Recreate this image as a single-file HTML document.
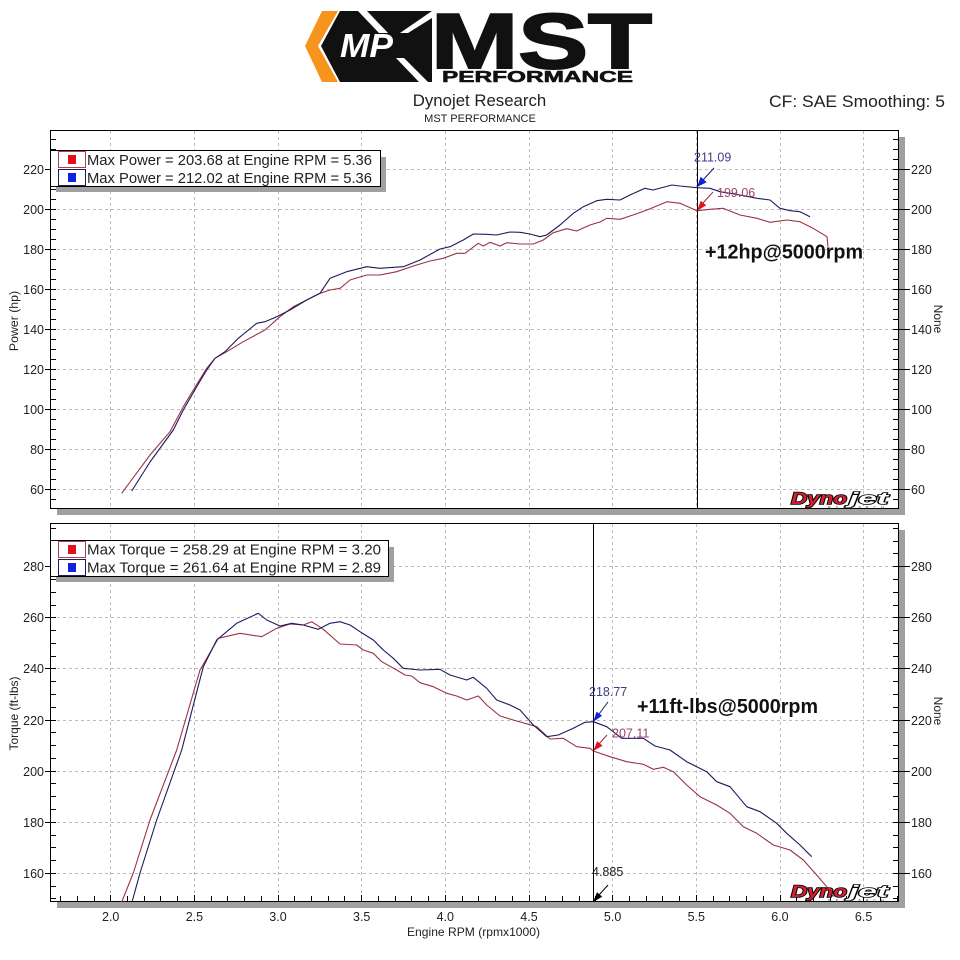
<!DOCTYPE html>
<html><head><meta charset="utf-8"><style>
html,body{margin:0;padding:0;background:#fff;}
svg{display:block;}
text{font-family:"Liberation Sans","DejaVu Sans",sans-serif;}
</style></head><body>
<svg width="960" height="960" viewBox="0 0 960 960" xmlns="http://www.w3.org/2000/svg">
<rect width="960" height="960" fill="#fff"/>

<!-- LOGO -->
<polygon points="322,11 338,11 318,46 338,82 322,82 305,46" fill="#f7941d"/>
<polygon points="340,11 432,11 432,82 340,82 321,46" fill="#111"/>
<polygon points="358,11 367,11 388,33 379,33" fill="#fff"/>
<polygon points="396,58 404,58 428,82 419,82" fill="#fff"/>
<polygon points="400,33 432,11 432,18 408,33" fill="#fff"/>
<text x="340" y="57" font-size="33" font-weight="bold" font-style="italic" fill="#fff" textLength="53" lengthAdjust="spacingAndGlyphs">MP</text>
<text x="431" y="68" font-size="78" font-weight="bold" fill="#111" stroke="#111" stroke-width="2" textLength="221" lengthAdjust="spacingAndGlyphs">MST</text>
<text x="442" y="82" font-size="16" font-weight="bold" fill="#111" stroke="#111" stroke-width="0.6" textLength="191" lengthAdjust="spacingAndGlyphs">PERFORMANCE</text>

<!-- HEADER -->
<text x="479.5" y="106" font-size="16.8" text-anchor="middle" fill="#222">Dynojet Research</text>
<text x="480" y="122" font-size="11" text-anchor="middle" fill="#222">MST PERFORMANCE</text>
<text x="769" y="107" font-size="16.3" fill="#222" textLength="176" lengthAdjust="spacingAndGlyphs">CF: SAE Smoothing: 5</text>

<!-- SHADOWS -->
<g fill="#a0a0a0">
<rect x="899" y="137" width="6" height="378"/>
<rect x="57" y="509" width="848" height="6"/>
<rect x="899" y="530" width="6" height="378"/>
<rect x="57" y="902" width="848" height="6"/>
</g>

<!-- GRID -->
<g stroke="#bdbdbd" stroke-width="1" stroke-dasharray="3,3" shape-rendering="crispEdges">
<path d="M110.5 131V509M194.5 131V509M278.5 131V509M361.5 131V509M445.5 131V509M529.5 131V509M612.5 131V509M696.5 131V509M780.5 131V509M863.5 131V509"/>
<path d="M51 169.5H899M51 209.5H899M51 249.5H899M51 289.5H899M51 329.5H899M51 369.5H899M51 409.5H899M51 449.5H899M51 489.5H899"/>
<path d="M110.5 524V902M194.5 524V902M278.5 524V902M361.5 524V902M445.5 524V902M529.5 524V902M612.5 524V902M696.5 524V902M780.5 524V902M863.5 524V902"/>
<path d="M51 566.5H899M51 617.5H899M51 668.5H899M51 720.5H899M51 771.5H899M51 822.5H899M51 873.5H899"/>
</g>

<!-- FRAMES -->
<rect x="50.5" y="130.5" width="848" height="378" fill="none" stroke="#000" stroke-width="1"/>
<rect x="50.5" y="523.5" width="848" height="378" fill="none" stroke="#000" stroke-width="1"/>

<!-- TICKS TOP -->
<g stroke="#000" stroke-width="1" shape-rendering="crispEdges">
<path d="M51 499.5H56M51 479.5H56M51 469.5H56M51 459.5H56M51 439.5H56M51 429.5H56M51 419.5H56M51 399.5H56M51 389.5H56M51 379.5H56M51 359.5H56M51 349.5H56M51 339.5H56M51 319.5H56M51 309.5H56M51 299.5H56M51 279.5H56M51 269.5H56M51 259.5H56M51 239.5H56M51 229.5H56M51 219.5H56M51 199.5H56M51 189.5H56M51 179.5H56M51 159.5H56M51 149.5H56M51 139.5H56"/>
<path d="M45 489.5H56M45 449.5H56M45 409.5H56M45 369.5H56M45 329.5H56M45 289.5H56M45 249.5H56M45 209.5H56M45 169.5H56"/>
<path d="M893 499.5H899M893 479.5H899M893 469.5H899M893 459.5H899M893 439.5H899M893 429.5H899M893 419.5H899M893 399.5H899M893 389.5H899M893 379.5H899M893 359.5H899M893 349.5H899M893 339.5H899M893 319.5H899M893 309.5H899M893 299.5H899M893 279.5H899M893 269.5H899M893 259.5H899M893 239.5H899M893 229.5H899M893 219.5H899M893 199.5H899M893 189.5H899M893 179.5H899M893 159.5H899M893 149.5H899M893 139.5H899"/>
<path d="M893 489.5H910M893 449.5H910M893 409.5H910M893 369.5H910M893 329.5H910M893 289.5H910M893 249.5H910M893 209.5H910M893 169.5H910"/>
</g>

<!-- TICKS BOTTOM -->
<g stroke="#000" stroke-width="1" shape-rendering="crispEdges">
<path d="M51 898.5H56M51 886.5H56M51 860.5H56M51 847.5H56M51 835.5H56M51 809.5H56M51 796.5H56M51 783.5H56M51 758.5H56M51 745.5H56M51 732.5H56M51 707.5H56M51 694.5H56M51 681.5H56M51 656.5H56M51 643.5H56M51 630.5H56M51 605.5H56M51 592.5H56M51 579.5H56M51 553.5H56M51 541.5H56M51 528.5H56"/>
<path d="M45 873.5H56M45 822.5H56M45 771.5H56M45 720.5H56M45 668.5H56M45 617.5H56M45 566.5H56"/>
<path d="M893 898.5H899M893 886.5H899M893 860.5H899M893 847.5H899M893 835.5H899M893 809.5H899M893 796.5H899M893 783.5H899M893 758.5H899M893 745.5H899M893 732.5H899M893 707.5H899M893 694.5H899M893 681.5H899M893 656.5H899M893 643.5H899M893 630.5H899M893 605.5H899M893 592.5H899M893 579.5H899M893 553.5H899M893 541.5H899M893 528.5H899"/>
<path d="M893 873.5H910M893 822.5H910M893 771.5H910M893 720.5H910M893 668.5H910M893 617.5H910M893 566.5H910"/>
<path d="M60.5 902V896M77.5 902V896M94.5 902V896M110.5 902V895M127.5 902V896M144.5 902V896M160.5 902V896M177.5 902V896M194.5 902V895M211.5 902V896M227.5 902V896M244.5 902V896M261.5 902V896M278.5 902V895M294.5 902V896M311.5 902V896M328.5 902V896M344.5 902V896M361.5 902V895M378.5 902V896M395.5 902V896M411.5 902V896M428.5 902V896M445.5 902V895M462.5 902V896M478.5 902V896M495.5 902V896M512.5 902V896M529.5 902V895M545.5 902V896M562.5 902V896M579.5 902V896M595.5 902V896M612.5 902V895M629.5 902V896M646.5 902V896M662.5 902V896M679.5 902V896M696.5 902V895M713.5 902V896M729.5 902V896M746.5 902V896M763.5 902V896M780.5 902V895M796.5 902V896M813.5 902V896M830.5 902V896M846.5 902V896M863.5 902V895M880.5 902V896M897.5 902V896"/>
</g>

<!-- TICK LABELS -->
<g font-size="12.5" fill="#222" text-anchor="end">
<text x="44" y="494">60</text><text x="44" y="454">80</text><text x="44" y="414">100</text><text x="44" y="374">120</text><text x="44" y="334">140</text><text x="44" y="294">160</text><text x="44" y="254">180</text><text x="44" y="214">200</text><text x="44" y="174">220</text>
<text x="44" y="878">160</text><text x="44" y="827">180</text><text x="44" y="776">200</text><text x="44" y="725">220</text><text x="44" y="673">240</text><text x="44" y="622">260</text><text x="44" y="571">280</text>
</g>
<g font-size="12.5" fill="#222">
<text x="911" y="494">60</text><text x="911" y="454">80</text><text x="911" y="414">100</text><text x="911" y="374">120</text><text x="911" y="334">140</text><text x="911" y="294">160</text><text x="911" y="254">180</text><text x="911" y="214">200</text><text x="911" y="174">220</text>
<text x="911" y="878">160</text><text x="911" y="827">180</text><text x="911" y="776">200</text><text x="911" y="725">220</text><text x="911" y="673">240</text><text x="911" y="622">260</text><text x="911" y="571">280</text>
</g>
<g font-size="12.5" fill="#222" text-anchor="middle">
<text x="110.7" y="921">2.0</text><text x="194.4" y="921">2.5</text><text x="278" y="921">3.0</text><text x="361.7" y="921">3.5</text><text x="445.3" y="921">4.0</text><text x="529" y="921">4.5</text><text x="612.6" y="921">5.0</text><text x="696.3" y="921">5.5</text><text x="779.9" y="921">6.0</text><text x="863.6" y="921">6.5</text>
</g>
<text x="473.5" y="936" font-size="12" fill="#222" text-anchor="middle" textLength="133" lengthAdjust="spacingAndGlyphs">Engine RPM (rpmx1000)</text>

<!-- AXIS TITLES -->
<text transform="translate(18,321) rotate(-90)" font-size="12.3" fill="#222" text-anchor="middle">Power (hp)</text>
<text transform="translate(18,713.5) rotate(-90)" font-size="12" fill="#222" text-anchor="middle">Torque (ft-lbs)</text>
<text transform="translate(934,319) rotate(90)" font-size="12" fill="#222" text-anchor="middle">None</text>
<text transform="translate(934,711) rotate(90)" font-size="12" fill="#222" text-anchor="middle">None</text>

<!-- CURVES TOP -->
<g fill="none" stroke-width="1.1" stroke-linejoin="round">
<polyline stroke="#9a3346" points="121.7,493.3 150,455 170,431.7 183.3,406.7 193.3,390 206.7,368.3 215,358.3 226.7,351.7 243.3,341.7 265,330 280,316.7 293.3,306.7 306.7,300 320,293.3 330,290 340,288.3 350,280 366.7,275 380,275 396.7,271.7 413.3,266 430,261 443.3,258.3 456.7,253.3 465,253.3 478.3,243.3 483.3,246 490,242.3 500,246 506.7,242.7 520,244 533.3,244 543.3,240 553.3,232.7 566.7,228.7 576.7,231 590,225 600,222 606.7,218.3 620,219.3 633,215 647,210 667,201.7 680,203.3 697,210.7 710,209.3 723,208.3 740,215 757,218.3 770,222.3 787,220 800,221.7 813,228.3 827,236.7 828,246.7"/>
<polyline stroke="#1b1b5e" points="131.7,491 150,462 173.3,430 183.3,410 196.7,386.7 206.7,370 215,358.3 225,351.7 238.3,338.3 256.7,323.3 265,321.7 276.7,316.7 290,310 306.7,300 320,293.3 330,278.3 346.7,271.7 366.7,266.7 380,268.3 403.3,266.7 420,260 440,249 450,246.7 463.3,240 473.3,234 486.7,234.3 496.7,235 510,232 520,232.3 530,234 540,236.7 546.7,235 560,225 573.3,213.3 583.3,206.7 596.7,200.7 606.7,199.3 620,200 630,195 645,188.3 653,190 672,185 680,186 697,187.7 710,188.3 720,191.7 740,195 757,198.3 770,200 780,208.3 790,210.7 800,211.7 810,216.7"/>
</g>

<!-- CURVES BOTTOM -->
<g fill="none" stroke-width="1.1" stroke-linejoin="round">
<polyline stroke="#9a3346" points="121.7,902 133.3,873 150,820 176.7,750 200,670 218.3,638.3 240,633.3 261.7,636.7 276.7,628.3 290,624 303.3,625 311.7,621.7 323.3,629.3 340,644 356.7,645 363.3,650 373.3,653.3 381.7,661.7 396.7,670 405,675 411.7,676 420,682.7 433.3,686.7 446.7,693.3 456.7,696 466.7,700 478.3,696 486.7,705 500,716 513.3,720 536.7,726.7 550,739 563.3,738.3 576.7,746.7 590,748.3 593.3,751 610,756.7 626.7,761.7 643.3,764.3 653.3,769.3 663.3,767.3 673.3,771.7 686.7,785 700,796.7 716.7,805 730,813.3 743.3,826.7 756.7,833.3 773.3,845 790,850 803.3,860 816.7,875 826.7,886.7 833.3,896.7"/>
<polyline stroke="#1b1b5e" points="132.3,901 140,873 156.7,820 181.7,750 203.3,666.7 216.7,640 236.7,623.3 258.3,613.3 266.7,620 280,626 291.7,623.3 303.3,625 318.3,629.3 330,623.3 340,621.7 350,625 360,631.7 373.3,640 383.3,650 393.3,658.3 403.3,668.3 420,670 440,669.3 450,675 466.7,680 473.3,677.3 486.7,688.3 496.7,700 510,705 520,710 533.3,725 546.7,736.7 558.3,735 573.3,728.3 585,722.3 593.3,721.7 606.7,726.7 621.7,738.3 643.3,738.3 655,746 670,750 686.7,761.7 706.7,771.7 716.7,781.7 730,786.7 746.7,806.7 760,811.7 776.7,823.3 786.7,833.3 800,845 811.7,856.7"/>
</g>

<!-- CURSORS -->
<line x1="697.5" y1="131" x2="697.5" y2="509" stroke="#000" stroke-width="1"/>
<line x1="593.5" y1="524" x2="593.5" y2="902" stroke="#000" stroke-width="1"/>

<!-- ANNOTATIONS TOP -->
<line x1="714" y1="168" x2="703" y2="180" stroke="#1b1b5e" stroke-width="1"/>
<polygon points="697,187 706.7,182.2 700.7,176.8" fill="#1020e0"/>
<line x1="713" y1="192" x2="703" y2="203" stroke="#9a3346" stroke-width="1"/>
<polygon points="697,210.7 706.2,205.4 700.8,200.8" fill="#e01020"/>
<text x="694" y="161.5" font-size="12.5" fill="#3c3c8c">211.09</text>
<text x="717" y="197" font-size="12.5" fill="#a0406a">199.06</text>
<text x="705" y="258.5" font-size="20" font-weight="bold" fill="#111" textLength="158" lengthAdjust="spacingAndGlyphs">+12hp@5000rpm</text>

<!-- ANNOTATIONS BOTTOM -->
<line x1="608" y1="702" x2="599" y2="714" stroke="#1b1b5e" stroke-width="1"/>
<polygon points="593.3,721.7 602.1,715.8 596.5,711.6" fill="#1020e0"/>
<line x1="607" y1="735" x2="599" y2="744" stroke="#9a3346" stroke-width="1"/>
<polygon points="593.3,751 602.5,745.7 597.1,741.1" fill="#e01020"/>
<line x1="608" y1="885" x2="599" y2="895" stroke="#000" stroke-width="1"/>
<polygon points="593,902 602.2,896.8 597,892.2" fill="#000"/>
<text x="589" y="696" font-size="12.5" fill="#3c3c8c">218.77</text>
<text x="612" y="737.5" font-size="12.5" fill="#a0406a">207.11</text>
<text x="592" y="876" font-size="12.5" fill="#222">4.885</text>
<text x="637" y="713" font-size="20" font-weight="bold" fill="#111" textLength="181" lengthAdjust="spacingAndGlyphs">+11ft-lbs@5000rpm</text>

<!-- LEGEND TOP -->
<rect x="56" y="157" width="330" height="35" fill="#a0a0a0"/>
<rect x="50.5" y="150.5" width="330" height="36" fill="#fff" stroke="#000" stroke-width="1"/>
<rect x="58.5" y="151.5" width="27" height="16" fill="none" stroke="#b04050" stroke-width="1"/>
<rect x="68" y="155" width="8" height="9" fill="#e01020"/>
<rect x="58.5" y="169.5" width="27" height="16" fill="none" stroke="#1b1b5e" stroke-width="1"/>
<rect x="68" y="173" width="8" height="9" fill="#1020e0"/>
<text x="87" y="165" font-size="14.8" fill="#222" textLength="285" lengthAdjust="spacingAndGlyphs">Max Power = 203.68 at Engine RPM = 5.36</text>
<text x="87" y="183" font-size="14.8" fill="#222" textLength="285" lengthAdjust="spacingAndGlyphs">Max Power = 212.02 at Engine RPM = 5.36</text>

<!-- LEGEND BOTTOM -->
<rect x="56" y="547" width="338" height="35" fill="#a0a0a0"/>
<rect x="50.5" y="540.5" width="338" height="36" fill="#fff" stroke="#000" stroke-width="1"/>
<rect x="58.5" y="541.5" width="27" height="16" fill="none" stroke="#b04050" stroke-width="1"/>
<rect x="68" y="545" width="8" height="9" fill="#e01020"/>
<rect x="58.5" y="559.5" width="27" height="16" fill="none" stroke="#1b1b5e" stroke-width="1"/>
<rect x="68" y="563" width="8" height="9" fill="#1020e0"/>
<text x="87" y="554.5" font-size="14.8" fill="#222" textLength="294" lengthAdjust="spacingAndGlyphs">Max Torque = 258.29 at Engine RPM = 3.20</text>
<text x="87" y="572.5" font-size="14.8" fill="#222" textLength="294" lengthAdjust="spacingAndGlyphs">Max Torque = 261.64 at Engine RPM = 2.89</text>

<!-- DYNOJET LOGOS -->
<g font-weight="bold" font-style="italic" font-size="17" stroke="#000" stroke-width="1.6" paint-order="stroke">
<text x="791" y="504" fill="#d42030" textLength="56" lengthAdjust="spacingAndGlyphs">Dyno</text>
<text x="849" y="504" fill="#fff" textLength="39" lengthAdjust="spacingAndGlyphs">jet</text>
<text x="791" y="897" fill="#d42030" textLength="56" lengthAdjust="spacingAndGlyphs">Dyno</text>
<text x="849" y="897" fill="#fff" textLength="39" lengthAdjust="spacingAndGlyphs">jet</text>
</g>
<text x="828" y="508.5" font-size="4" fill="#444" textLength="56" lengthAdjust="spacing">RESEARCH</text>
<text x="828" y="901.5" font-size="4" fill="#444" textLength="56" lengthAdjust="spacing">RESEARCH</text>
</svg>
</body></html>
